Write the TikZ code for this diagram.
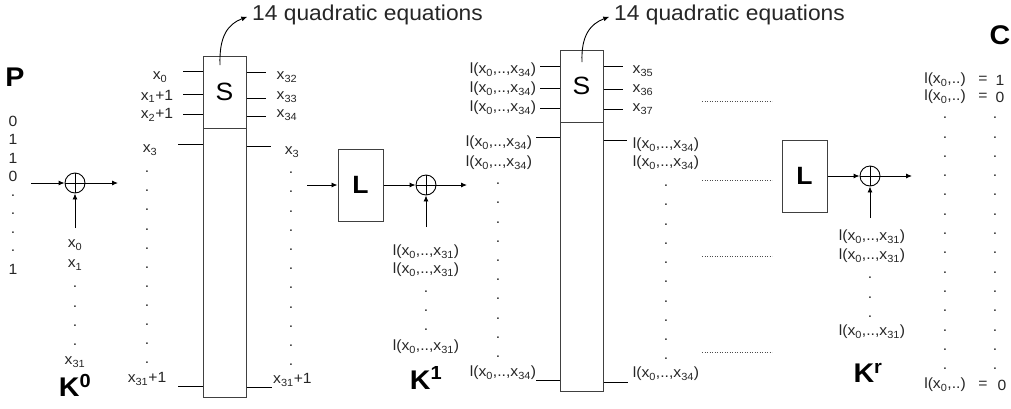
\documentclass[tikz,border=0pt]{standalone}
\usepackage{fontspec}
\setmainfont[FakeStretch=1.06]{Liberation Sans}
\usetikzlibrary{arrows.meta}
\newcommand\xs[1]{x\textsubscript{#1}}
\newcommand\lx[1]{l(x\textsubscript{0},..,x\textsubscript{#1})}
\begin{document}
\begin{tikzpicture}[x=1pt,y=-1pt,
 lbl/.style={inner sep=0pt, text=black!85, font=\fontsize{14.8}{16}\selectfont},
 ttl/.style={inner sep=0pt, text=black!85, font=\fontsize{21.5}{24}\selectfont},
 bigl/.style={inner sep=0pt, font=\fontsize{27}{30}\selectfont\bfseries},
 boxs/.style={draw=black!75, line width=1pt, inner sep=0pt},
 wire/.style={line width=0.9pt},
 arr/.style={line width=0.9pt, -{Latex[length=6pt,width=5pt]}},
 xorn/.style={circle, draw, line width=0.9pt, minimum size=20pt, inner sep=0pt,
   path picture={\draw[line width=0.9pt] (path picture bounding box.north)--(path picture bounding box.south)
     (path picture bounding box.west)--(path picture bounding box.east);}},
 dotl/.style={line width=0.8pt, dash pattern=on 0.9pt off 1.6pt, black!70}
]
\useasboundingbox (0,0) rectangle (1011,408);

% ---------- plaintext ----------
\node[bigl] (P) at (15,77) {P};
\foreach \t [count=\i from 0] in {0,1,1,0,.,.,.,.,1}
  \node[lbl] (p\i) at (13,{121+18.6*\i}) {\t};

\node[xorn] (xor0) at (75,183) {};
\coordinate (pin) at (31,183);
\coordinate (pout) at (118,183);
\coordinate (k0top) at (75,228);
\draw[arr] (pin) -- (xor0);
\draw[arr] (xor0) -- (pout);
\draw[arr] (k0top) -- (xor0);

\node[lbl] (k0a) at (75,245) {\xs{0}};
\node[lbl] (k0b) at (75,265) {\xs{1}};
\foreach \i in {0,...,3} \node[lbl] (k0d\i) at (75,{287+19.3*\i}) {.};
\node[lbl] (k0z) at (75,362) {\xs{31}};
\node[bigl] (K0) at (75,385) {K\textsuperscript{0}};

% ---------- first S box ----------
\node[boxs, minimum width=43pt, minimum height=72pt, font=\fontsize{25}{28}\selectfont] (S1) at (224.5,92) {S};
\node[boxs, minimum width=43pt, minimum height=269pt] (S1b) at (224.5,262.5) {};
\node[ttl, anchor=west] (Q1) at (252,15) {14 quadratic equations};
\coordinate (q1s) at (220,65);
\draw[arr, shorten >=5pt] (q1s) .. controls (219,36) and (228,24) .. (Q1.west);

\node[lbl] (a0) at (160,77) {\xs{0}};
\node[lbl] (a1) at (157,96) {\xs{1}+1};
\node[lbl] (a2) at (157,115) {\xs{2}+1};
\node[lbl] (a3) at (150,150) {\xs{3}};
\foreach \i in {0,...,10} \node[lbl] (ad\i) at (147,{172+19.1*\i}) {.};
\node[lbl] (az) at (147,379) {\xs{31}+1};
\coordinate (la0) at (183,71);
\coordinate (la1) at (183,94);
\coordinate (la2) at (183,114);
\coordinate (la3) at (178,144);
\coordinate (laz) at (178,386);
\foreach \c in {la0,la1,la2,la3,laz} \draw[wire] (\c) -- (\c -| S1.west);

\coordinate (ra0) at (266,72);
\coordinate (ra1) at (266,98);
\coordinate (ra2) at (266,116);
\coordinate (ra3) at (271,146);
\coordinate (raz) at (272,387);
\foreach \c in {ra0,ra1,ra2,ra3,raz} \draw[wire] (\c -| S1.east) -- (\c);
\node[lbl] (b0) at (287,77) {\xs{32}};
\node[lbl] (b1) at (287,97) {\xs{33}};
\node[lbl] (b2) at (287,115) {\xs{34}};
\node[lbl] (b3) at (292,152) {\xs{3}};
\foreach \i in {0,...,10} \node[lbl] (bd\i) at (291,{173+19.2*\i}) {.};
\node[lbl, anchor=west] (bz) at (273,380) {\xs{31}+1};

% ---------- first L ----------
\coordinate (lin1) at (307,185);
\node[boxs, minimum width=45pt, minimum height=72pt, font=\fontsize{25}{28}\selectfont\bfseries] (L1) at (360.5,185) {L};
\node[xorn] (xor1) at (426,185) {};
\coordinate (lout1) at (467,185);
\coordinate (k1top) at (426,227);
\draw[arr] (lin1) -- (L1);
\draw[arr] (L1) -- (xor1);
\draw[arr] (xor1) -- (lout1);
\draw[arr] (k1top) -- (xor1);
\node[lbl] (k1a) at (426,252) {\lx{31}};
\node[lbl] (k1b) at (426,270) {\lx{31}};
\foreach \i in {0,...,2} \node[lbl] (k1d\i) at (426,{292+19*\i}) {.};
\node[lbl] (k1z) at (426,347) {\lx{31}};
\node[bigl] (K1) at (426,378) {K\textsuperscript{1}};

% ---------- second S box ----------
\node[boxs, minimum width=43pt, minimum height=72pt, font=\fontsize{25}{28}\selectfont] (S2) at (581.5,86) {S};
\node[boxs, minimum width=43pt, minimum height=269pt] (S2b) at (581.5,256.5) {};
\node[ttl, anchor=west] (Q2) at (614,15) {14 quadratic equations};
\coordinate (q2s) at (582,62);
\draw[arr, shorten >=5pt] (q2s) .. controls (581,36) and (590,24) .. (Q2.west);

\node[lbl] (c0) at (503,70) {\lx{34}};
\node[lbl] (c1) at (503,89) {\lx{34}};
\node[lbl] (c2) at (503,108) {\lx{34}};
\node[lbl] (c3) at (499,143) {\lx{34}};
\node[lbl] (c4) at (499,163) {\lx{34}};
\foreach \i in {0,...,9} \node[lbl] (cd\i) at (498,{184+19.2*\i}) {.};
\node[lbl] (cz) at (503,373) {\lx{34}};
\coordinate (lc0) at (540,66);
\coordinate (lc1) at (540,88);
\coordinate (lc2) at (540,108);
\coordinate (lc3) at (536,137);
\coordinate (lcz) at (536,380);
\foreach \c in {lc0,lc1,lc2,lc3,lcz} \draw[wire] (\c) -- (\c -| S2.west);

\coordinate (rc0) at (623,66);
\coordinate (rc1) at (623,89);
\coordinate (rc2) at (623,109);
\coordinate (rc3) at (627,140);
\coordinate (rcz) at (628,382);
\foreach \c in {rc0,rc1,rc2,rc3,rcz} \draw[wire] (\c -| S2.east) -- (\c);
\node[lbl] (d0) at (643,71) {\xs{35}};
\node[lbl] (d1) at (643,90) {\xs{36}};
\node[lbl] (d2) at (643,109) {\xs{37}};
\node[lbl] (d3) at (666,145) {\lx{34}};
\node[lbl] (d4) at (666,163) {\lx{34}};
\foreach \i in {0,...,9} \node[lbl] (dd\i) at (666,{186+19.2*\i}) {.};
\node[lbl] (dz) at (666,374) {\lx{34}};

% ---------- dotted continuation ----------
\foreach \y [count=\i] in {101,180,256,352} {
  \coordinate (dl\i) at (702,\y);
  \coordinate (dr\i) at (772,\y);
  \draw[dotl] (dl\i) -- (dr\i);
}

% ---------- last L ----------
\node[boxs, minimum width=45pt, minimum height=72pt, font=\fontsize{25}{28}\selectfont\bfseries] (L2) at (804.5,176) {L};
\node[xorn] (xor2) at (870,176) {};
\coordinate (lout2) at (912,176);
\coordinate (k2top) at (870,218);
\draw[arr] (L2) -- (xor2);
\draw[arr] (xor2) -- (lout2);
\draw[arr] (k2top) -- (xor2);
\node[lbl] (k2a) at (872,237) {\lx{31}};
\node[lbl] (k2b) at (872,256) {\lx{31}};
\foreach \i in {0,...,2} \node[lbl] (k2d\i) at (870,{278+19.5*\i}) {.};
\node[lbl] (k2z) at (872,332) {\lx{31}};
\node[bigl] (Kr) at (868,373) {K\textsuperscript{r}};

% ---------- ciphertext ----------
\node[bigl] (C) at (1000,35) {C};
\node[lbl] (e1l) at (945,80) {l(x\textsubscript{0},..)};
\node[lbl] (e1e) at (983,80) {=};
\node[lbl] (e1v) at (1000,80) {1};
\node[lbl] (e2l) at (945,97) {l(x\textsubscript{0},..)};
\node[lbl] (e2e) at (983,97) {=};
\node[lbl] (e2v) at (1000,97) {0};
\foreach \i in {0,...,13} {
  \node[lbl] (el\i) at (945,{118+19.3*\i}) {.};
  \node[lbl] (er\i) at (995,{118+19.3*\i}) {.};
}
\node[lbl] (ezl) at (945,385) {l(x\textsubscript{0},..)};
\node[lbl] (eze) at (983,385) {=};
\node[lbl] (ezv) at (1002,385) {0};
\end{tikzpicture}
\end{document}
